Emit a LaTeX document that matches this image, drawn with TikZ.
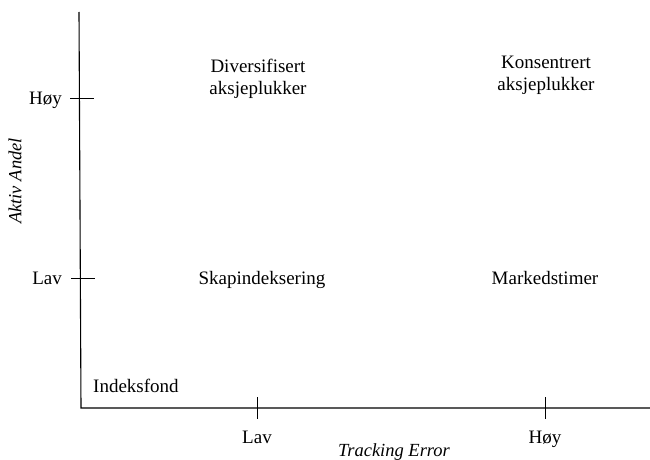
\documentclass[tikz,border=0pt]{standalone}
\usepackage{fontspec}
\setmainfont{Liberation Serif}
\begin{document}
\begin{tikzpicture}[x=1pt,y=-1pt,
  lbl/.style={font=\fontsize{19}{21}\selectfont, inner sep=0pt, anchor=base},
  axislbl/.style={font=\fontsize{18.5}{21}\selectfont\itshape, inner sep=0pt},
  axisline/.style={line width=1.1pt},
  tickline/.style={line width=1pt}]
\useasboundingbox (0,0) rectangle (650,460);
% axes
\coordinate (ytop) at (79,12);
\coordinate (origin) at (81,408);
\coordinate (xend) at (650,408);
\draw[axisline] (ytop) -- (origin) -- (xend);
% y ticks
\coordinate (yh1) at (70,98); \coordinate (yh2) at (94,98);
\coordinate (yl1) at (71,278); \coordinate (yl2) at (95,278);
\draw[tickline] (yh1) -- (yh2);
\draw[tickline] (yl1) -- (yl2);
% x ticks
\coordinate (xl1) at (257,397); \coordinate (xl2) at (257,419);
\coordinate (xh1) at (545,397); \coordinate (xh2) at (545,419);
\draw[tickline] (xl1) -- (xl2);
\draw[tickline] (xh1) -- (xh2);
% y labels
\node[lbl, anchor=base east] (yhoy) at (62,104) {Høy};
\node[lbl, anchor=base east] (ylav) at (62,284) {Lav};
\node[axislbl, rotate=90] (yaxis) at (15,181) {Aktiv Andel};
% x labels
\node[lbl] (xlav) at (257,443) {Lav};
\node[lbl] (xhoy) at (545,443) {Høy};
\node[axislbl, anchor=base] (xaxis) at (394,456) {Tracking Error};
% quadrants
\node[lbl, align=center] (div) at (258,94) {Diversifisert\\aksjeplukker};
\node[lbl, align=center] (kons) at (546,90) {Konsentrert\\aksjeplukker};
\node[lbl] (skap) at (262,284) {Skapindeksering};
\node[lbl] (mark) at (545,284) {Markedstimer};
\node[lbl, anchor=base west] (indeks) at (93,392) {Indeksfond};
\end{tikzpicture}
\end{document}
